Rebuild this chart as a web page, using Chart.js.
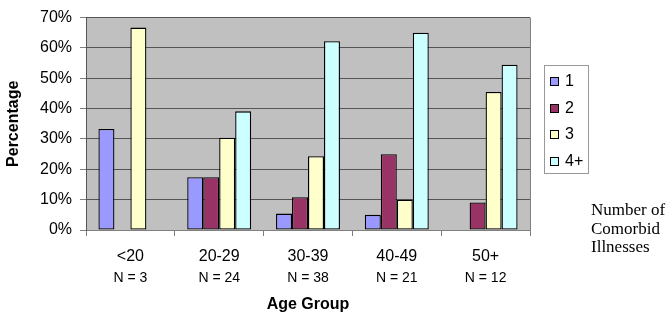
<!DOCTYPE html>
<html>
<head>
<meta charset="utf-8">
<script src="https://cdn.jsdelivr.net/npm/chart.js@4/dist/chart.umd.min.js"></script>
<style>
  html, body { margin: 0; padding: 0; background: #fff; }
  #wrap { width: 672px; height: 316px; position: relative; }
</style>
</head>
<body>
<div id="wrap"><canvas id="chart"></canvas></div>
<script>
// -- Data -------------------------------------------------------------------
const AGE_GROUPS = ['<20', '20-29', '30-39', '40-49', '50+'];
const GROUP_N = ['N = 3', 'N = 24', 'N = 38', 'N = 21', 'N = 12'];
const SERIES_LABELS = ['1', '2', '3', '4+'];
const ONE = [33.3, 17.4, 5.4, 5.0, 0];
const TWO = [0, 17.4, 10.8, 25.0, 9.1];
const THREE = [66.7, 30.4, 24.3, 10.0, 45.5];
const FOUR_PLUS = [0, 39.1, 62.2, 65.0, 54.5];
const Y_TICKS = [0, 10, 20, 30, 40, 50, 60, 70];
const LEGEND_NOTE = ['Number of', 'Comorbid', 'Illnesses'];

const COLORS = ['#9999ff', '#993366', '#ffffcc', '#ccffff'];
const SANS = '"Liberation Sans", Arial, sans-serif';
const SERIF = '"Liberation Serif", "Times New Roman", serif';

// grey plot area, like the old spreadsheet default
const plotBg = {
  id: 'plotBg',
  beforeDraw(chart) {
    const { ctx, chartArea: a } = chart;
    ctx.save();
    ctx.fillStyle = '#c0c0c0';
    ctx.fillRect(a.left, a.top, a.right - a.left, a.bottom - a.top);
    ctx.restore();
  },
  afterDatasetsDraw(chart) {
    const { ctx, chartArea: a } = chart;
    ctx.save();
    ctx.strokeStyle = '#808080';
    ctx.lineWidth = 1;
    ctx.beginPath();
    ctx.moveTo(a.right + 0.5, a.top);
    ctx.lineTo(a.right + 0.5, a.bottom);
    ctx.stroke();
    ctx.restore();
  }
};

// "N = .." line under each category label, plus the boxed legend and note
const extras = {
  id: 'extras',
  afterDraw(chart) {
    const ctx = chart.ctx;
    const xs = chart.scales.x;
    ctx.save();
    ctx.fillStyle = '#000';
    ctx.font = '14px ' + SANS;
    ctx.textAlign = 'center';
    ctx.textBaseline = 'middle';
    GROUP_N.forEach(function (n, i) {
      ctx.fillText(n, xs.getPixelForValue(i), 278);
    });

    // legend box
    ctx.fillStyle = '#fff';
    ctx.fillRect(544, 65, 44, 108);
    ctx.strokeStyle = '#999';
    ctx.lineWidth = 1;
    ctx.strokeRect(544.5, 65.5, 44, 108);
    ctx.font = '16px ' + SANS;
    ctx.textAlign = 'left';
    const ys = [81, 108, 134, 161];
    chart.data.datasets.forEach(function (ds, i) {
      ctx.fillStyle = ds.backgroundColor;
      ctx.fillRect(550, ys[i] - 4, 9, 9);
      ctx.strokeStyle = '#000';
      ctx.strokeRect(550.5, ys[i] - 3.5, 8, 8);
      ctx.fillStyle = '#000';
      ctx.fillText(ds.label, 565, ys[i] + 1);
    });

    ctx.font = '17px ' + SERIF;
    LEGEND_NOTE.forEach(function (t, i) {
      ctx.fillText(t, 591, 211 + i * 18.5);
    });
    ctx.restore();
  }
};

const seriesValues = [ONE, TWO, THREE, FOUR_PLUS];

new Chart(document.getElementById('chart'), {
  type: 'bar',
  data: {
    labels: AGE_GROUPS,
    datasets: SERIES_LABELS.map(function (lbl, i) {
      return {
        label: lbl,
        data: seriesValues[i],
        backgroundColor: COLORS[i],
        borderColor: '#000',
        borderWidth: 1.3,
        borderSkipped: false,
        barPercentage: 1,
        categoryPercentage: 0.72
      };
    })
  },
  options: {
    responsive: true,
    maintainAspectRatio: false,
    animation: false,
    layout: { padding: { left: 0, right: 142, top: 10, bottom: 0 } },
    plugins: { legend: { display: false }, tooltip: { enabled: false } },
    scales: {
      x: {
        afterFit: function (s) { s.height = 86; },
        grid: { drawOnChartArea: false, drawTicks: true, tickLength: 6, color: '#808080', offset: true },
        border: { color: '#808080' },
        ticks: { color: '#000', font: { family: SANS, size: 16 }, padding: 11, maxRotation: 0 },
        title: {
          display: true, text: 'Age Group', color: '#000',
          font: { family: SANS, size: 16, weight: 'bold' },
          padding: { top: 0, bottom: 2 }
        }
      },
      y: {
        min: 0, max: 70,
        afterFit: function (s) { s.width = 86; },
        afterBuildTicks: function (s) { s.ticks = Y_TICKS.map(function (v) { return { value: v }; }); },
        grid: { color: '#555', tickLength: 6, tickColor: '#808080' },
        border: { color: '#555' },
        ticks: {
          color: '#000', font: { family: SANS, size: 16 }, padding: 8,
          callback: function (v) { return v + '%'; }
        },
        title: {
          display: true, text: 'Percentage', color: '#000',
          font: { family: SANS, size: 16, weight: 'bold' },
          padding: { top: 4, bottom: 0 }
        }
      }
    }
  },
  plugins: [plotBg, extras]
});
</script>
</body>
</html>
